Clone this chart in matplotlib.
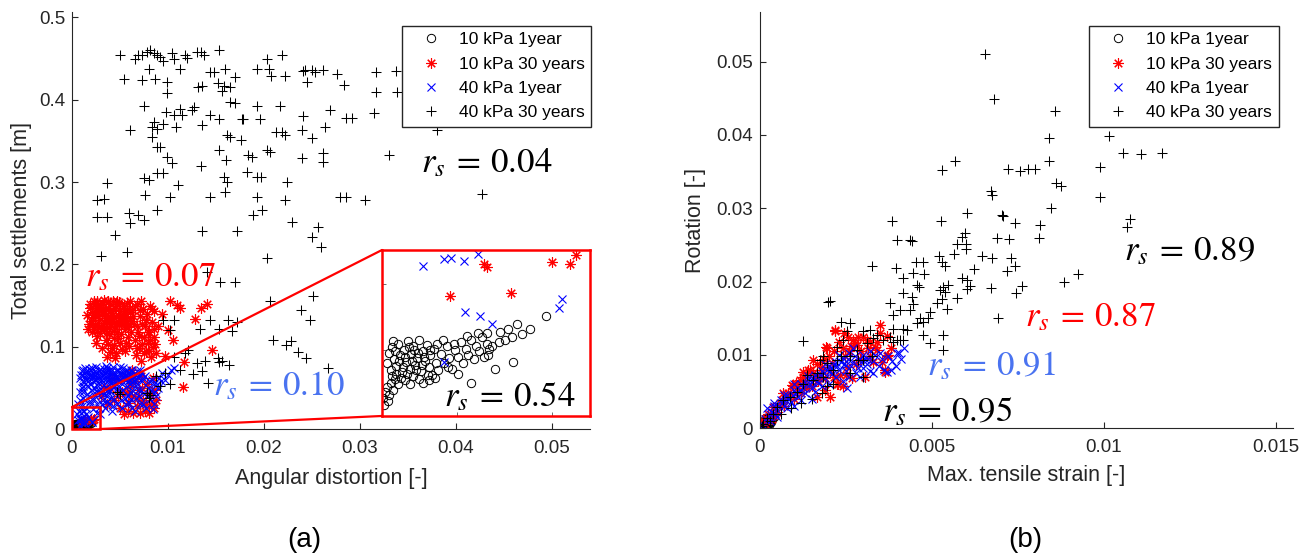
import numpy as np
import matplotlib.pyplot as plt
from matplotlib.patches import Rectangle, ConnectionPatch

plt.rcParams['font.family'] = ['Liberation Sans', 'DejaVu Sans']
plt.rcParams['mathtext.fontset'] = 'stix'

# ---- (a) angular distortion [-] vs total settlements [m] ----
a_10kpa_1y = [
    (0.00026, 0.0040), (0.00028, 0.0048), (0.00030, 0.0035), (0.00032, 0.0052), (0.00034, 0.0043),
    (0.00036, 0.0038), (0.00038, 0.0055), (0.00040, 0.0046), (0.00042, 0.0033), (0.00044, 0.0050),
    (0.00046, 0.0041), (0.00048, 0.0057), (0.00050, 0.0036), (0.00052, 0.0047), (0.00054, 0.0053),
    (0.00056, 0.0039), (0.00058, 0.0044), (0.00060, 0.0058), (0.00062, 0.0034), (0.00064, 0.0049),
    (0.00066, 0.0042), (0.00068, 0.0054), (0.00070, 0.0037), (0.00072, 0.0046), (0.00074, 0.0031),
    (0.00076, 0.0051), (0.00078, 0.0040), (0.00080, 0.0035), (0.00035, 0.0049), (0.00045, 0.0045),
    (0.00055, 0.0050), (0.00065, 0.0045), (0.00043, 0.0037), (0.00053, 0.0042), (0.00063, 0.0039),
    (0.00049, 0.0052), (0.00059, 0.0048), (0.00039, 0.0042), (0.00071, 0.0050), (0.00033, 0.0057),
    (0.00022, 0.0014), (0.00024, 0.0018), (0.00026, 0.0022), (0.00028, 0.0016), (0.00030, 0.0025),
    (0.00033, 0.0020), (0.00035, 0.0028), (0.00038, 0.0024), (0.00031, 0.0030), (0.00041, 0.0029),
    (0.00045, 0.0027), (0.00050, 0.0024), (0.00054, 0.0030), (0.00064, 0.0025), (0.00060, 0.0028),
    (0.00070, 0.0027), (0.00077, 0.0029), (0.00083, 0.0047), (0.00086, 0.0040), (0.00089, 0.0053),
    (0.00092, 0.0044), (0.00095, 0.0036), (0.00098, 0.0050), (0.00101, 0.0045), (0.00104, 0.0056),
    (0.00106, 0.0040), (0.00109, 0.0051), (0.00112, 0.0046), (0.00115, 0.0058), (0.00118, 0.0043),
    (0.00120, 0.0053), (0.00123, 0.0049), (0.00126, 0.0060), (0.00128, 0.0045), (0.00131, 0.0055),
    (0.00134, 0.0051), (0.00101, 0.0032), (0.00115, 0.0025), (0.00090, 0.0037), (0.00137, 0.0053),
    (0.00140, 0.0036), (0.00133, 0.0046), (0.00131, 0.0063), (0.00122, 0.0063), (0.00145, 0.0064),
    (0.00150, 0.0058), (0.00158, 0.0060), (0.00159, 0.0041), (0.00163, 0.0070), (0.00168, 0.0062),
    (0.00177, 0.0066), (0.00194, 0.0076), (0.00144, 0.0056), (0.00154, 0.0066),
    (0.00023, 0.0008), (0.00027, 0.0011), (0.00036, 0.0032), (0.00047, 0.0032), (0.00057, 0.0035),
    (0.00069, 0.0031), (0.00079, 0.0055), (0.00085, 0.0058), (0.00097, 0.0055), (0.00110, 0.0061),
]

a_10kpa_30y = [
    (0.0016, 0.138), (0.0018, 0.128), (0.0019, 0.147), (0.0021, 0.118), (0.0022, 0.136), (0.0023, 0.155),
    (0.0024, 0.126), (0.0026, 0.143), (0.0026, 0.113), (0.0028, 0.132), (0.0029, 0.151), (0.0030, 0.122),
    (0.0031, 0.140), (0.0033, 0.129), (0.0033, 0.157), (0.0035, 0.146), (0.0036, 0.117), (0.0037, 0.135),
    (0.0039, 0.124), (0.0040, 0.152), (0.0041, 0.141), (0.0042, 0.130), (0.0044, 0.119), (0.0045, 0.147),
    (0.0046, 0.137), (0.0047, 0.156), (0.0049, 0.126), (0.0050, 0.143), (0.0051, 0.115), (0.0052, 0.133),
    (0.0054, 0.150), (0.0055, 0.122), (0.0056, 0.140), (0.0057, 0.129), (0.0059, 0.146), (0.0060, 0.135),
    (0.0061, 0.155), (0.0062, 0.118), (0.0024, 0.139), (0.0034, 0.137), (0.0044, 0.135), (0.0053, 0.140),
    (0.0038, 0.147), (0.0048, 0.131), (0.0027, 0.124), (0.0020, 0.131), (0.0043, 0.155), (0.0058, 0.112),
    (0.0025, 0.105), (0.0031, 0.098), (0.0035, 0.108), (0.0040, 0.093), (0.0044, 0.102), (0.0048, 0.110),
    (0.0052, 0.097), (0.0037, 0.088), (0.0056, 0.105),
    (0.0017, 0.121), (0.0019, 0.152), (0.0021, 0.142), (0.0023, 0.122), (0.0025, 0.149), (0.0027, 0.137),
    (0.0029, 0.117), (0.0030, 0.145), (0.0032, 0.152), (0.0032, 0.125), (0.0034, 0.143), (0.0036, 0.131),
    (0.0038, 0.155), (0.0039, 0.115), (0.0041, 0.127), (0.0043, 0.145), (0.0045, 0.125), (0.0046, 0.150),
    (0.0048, 0.139), (0.0049, 0.154), (0.0051, 0.129), (0.0053, 0.147), (0.0055, 0.136), (0.0057, 0.153),
    (0.0058, 0.124), (0.0060, 0.142), (0.0062, 0.131), (0.0035, 0.121), (0.0047, 0.118), (0.0028, 0.144),
    (0.0040, 0.136), (0.0054, 0.128), (0.0022, 0.128), (0.0044, 0.110), (0.0050, 0.104), (0.0042, 0.098),
    (0.0046, 0.092), (0.0055, 0.095), (0.0059, 0.101), (0.0038, 0.103),
    (0.0063, 0.145), (0.0065, 0.128), (0.0066, 0.108), (0.0067, 0.090), (0.0068, 0.152), (0.0069, 0.118),
    (0.0070, 0.098), (0.0071, 0.137), (0.0072, 0.083), (0.0074, 0.146), (0.0075, 0.112), (0.0076, 0.125),
    (0.0077, 0.095), (0.0078, 0.140), (0.0079, 0.104), (0.0080, 0.118), (0.0081, 0.150), (0.0082, 0.087),
    (0.0083, 0.130), (0.0084, 0.100), (0.0085, 0.143), (0.0086, 0.112), (0.0088, 0.092), (0.0073, 0.103),
    (0.0064, 0.137), (0.0066, 0.150), (0.0068, 0.125), (0.0070, 0.113), (0.0071, 0.145), (0.0073, 0.128),
    (0.0075, 0.092), (0.0077, 0.133), (0.0079, 0.118), (0.0081, 0.108), (0.0083, 0.146), (0.0085, 0.122),
    (0.0087, 0.103), (0.0068, 0.098), (0.0072, 0.155), (0.0080, 0.095),
    (0.0026, 0.155), (0.0102, 0.155), (0.0113, 0.147), (0.0109, 0.151), (0.0128, 0.134), (0.0135, 0.147),
    (0.0141, 0.152), (0.0146, 0.096), (0.0116, 0.051), (0.0100, 0.120), (0.0094, 0.140), (0.0105, 0.108),
    (0.0090, 0.125), (0.0097, 0.089), (0.0117, 0.082), (0.0045, 0.086), (0.0063, 0.072),
    (0.0030, 0.040), (0.0036, 0.030), (0.0040, 0.050), (0.0044, 0.035), (0.0047, 0.060), (0.0050, 0.025),
    (0.0052, 0.045), (0.0055, 0.065), (0.0058, 0.032), (0.0060, 0.052), (0.0063, 0.040), (0.0066, 0.058),
    (0.0068, 0.028), (0.0070, 0.047), (0.0072, 0.065), (0.0074, 0.035), (0.0076, 0.022), (0.0078, 0.055),
    (0.0080, 0.042), (0.0082, 0.030), (0.0084, 0.062), (0.0086, 0.048), (0.0064, 0.020), (0.0080, 0.020),
    (0.0054, 0.018), (0.0033, 0.050), (0.0042, 0.062), (0.0048, 0.040), (0.0057, 0.045), (0.0062, 0.060),
    (0.0069, 0.038), (0.0073, 0.050), (0.0077, 0.030), (0.0083, 0.045), (0.0088, 0.035), (0.0058, 0.022),
    (0.0071, 0.020), (0.0085, 0.025),
    (0.00128, 0.0115), (0.00131, 0.0113), (0.00093, 0.0091), (0.00157, 0.0093), (0.00200, 0.0117),
    (0.00219, 0.0115), (0.00225, 0.0122),
]

a_40kpa_1y = [
    (0.0008, 0.062), (0.0010, 0.070), (0.0012, 0.066), (0.0014, 0.074), (0.0015, 0.060), (0.0017, 0.068),
    (0.0019, 0.064), (0.0020, 0.072), (0.0022, 0.058), (0.0023, 0.067), (0.0025, 0.075), (0.0026, 0.062),
    (0.0028, 0.070), (0.0030, 0.065), (0.0031, 0.059), (0.0033, 0.073), (0.0034, 0.068), (0.0036, 0.062),
    (0.0038, 0.071), (0.0039, 0.066), (0.0041, 0.060), (0.0043, 0.075), (0.0044, 0.069), (0.0046, 0.063),
    (0.0048, 0.072), (0.0049, 0.058), (0.0051, 0.067), (0.0053, 0.074), (0.0054, 0.061), (0.0056, 0.070),
    (0.0058, 0.065), (0.0060, 0.059), (0.0062, 0.072), (0.0064, 0.066), (0.0066, 0.061), (0.0068, 0.070),
    (0.0070, 0.064), (0.0072, 0.068), (0.0013, 0.057), (0.0027, 0.056), (0.0040, 0.056), (0.0052, 0.055),
    (0.0018, 0.073), (0.0035, 0.076), (0.0047, 0.065), (0.0024, 0.064), (0.0057, 0.062), (0.0011, 0.058),
    (0.0009, 0.066), (0.0011, 0.072), (0.0013, 0.063), (0.0015, 0.070), (0.0016, 0.064), (0.0018, 0.060),
    (0.0020, 0.067), (0.0021, 0.074), (0.0022, 0.063), (0.0024, 0.070), (0.0025, 0.059), (0.0027, 0.066),
    (0.0029, 0.073), (0.0029, 0.061), (0.0031, 0.068), (0.0032, 0.064), (0.0034, 0.059), (0.0035, 0.071),
    (0.0037, 0.066), (0.0037, 0.074), (0.0039, 0.061), (0.0040, 0.069), (0.0042, 0.064), (0.0042, 0.072),
    (0.0044, 0.058), (0.0045, 0.066), (0.0047, 0.071), (0.0048, 0.061), (0.0050, 0.068), (0.0050, 0.075),
    (0.0052, 0.063), (0.0053, 0.069), (0.0055, 0.066), (0.0057, 0.072), (0.0058, 0.058), (0.0059, 0.068),
    (0.0061, 0.064), (0.0063, 0.069), (0.0065, 0.058), (0.0067, 0.066), (0.0069, 0.062), (0.0071, 0.072),
    (0.0074, 0.062), (0.0016, 0.052), (0.0020, 0.055), (0.0023, 0.050), (0.0028, 0.047), (0.0033, 0.053),
    (0.0038, 0.049), (0.0043, 0.054), (0.0046, 0.048),
    (0.0006, 0.030), (0.0008, 0.045), (0.0009, 0.020), (0.0011, 0.038), (0.0012, 0.052), (0.0014, 0.027),
    (0.0016, 0.043), (0.0017, 0.015), (0.0019, 0.034), (0.0021, 0.048), (0.0022, 0.024), (0.0024, 0.040),
    (0.0026, 0.030), (0.0027, 0.052), (0.0029, 0.018), (0.0030, 0.044), (0.0032, 0.035), (0.0034, 0.025),
    (0.0035, 0.050), (0.0037, 0.040), (0.0039, 0.030), (0.0040, 0.046), (0.0042, 0.022), (0.0044, 0.037),
    (0.0045, 0.052), (0.0007, 0.022), (0.0010, 0.050), (0.0012, 0.045), (0.0014, 0.035), (0.0018, 0.040),
    (0.0020, 0.030), (0.0023, 0.036), (0.0025, 0.046), (0.0028, 0.025), (0.0031, 0.030), (0.0033, 0.042),
    (0.0036, 0.034), (0.0038, 0.045), (0.0041, 0.038), (0.0043, 0.028), (0.0008, 0.035), (0.0013, 0.022),
    (0.0005, 0.018), (0.0015, 0.018), (0.0026, 0.020), (0.0010, 0.028),
    (0.0047, 0.030), (0.0050, 0.045), (0.0052, 0.025), (0.0055, 0.038), (0.0057, 0.052), (0.0059, 0.032),
    (0.0061, 0.045), (0.0063, 0.026), (0.0065, 0.055), (0.0067, 0.038), (0.0069, 0.048), (0.0071, 0.030),
    (0.0073, 0.058), (0.0075, 0.042), (0.0077, 0.025), (0.0079, 0.050), (0.0081, 0.036), (0.0083, 0.060),
    (0.0085, 0.030), (0.0087, 0.045), (0.0089, 0.055), (0.0091, 0.062), (0.0094, 0.068), (0.0097, 0.060),
    (0.0100, 0.066), (0.0103, 0.072), (0.0106, 0.074), (0.0084, 0.024), (0.0076, 0.064), (0.0066, 0.022),
    (0.0048, 0.052), (0.0051, 0.035), (0.0053, 0.048), (0.0056, 0.030), (0.0058, 0.040), (0.0060, 0.055),
    (0.0062, 0.036), (0.0064, 0.046), (0.0068, 0.055), (0.0070, 0.040), (0.0072, 0.047), (0.0074, 0.030),
    (0.0078, 0.040), (0.0080, 0.058), (0.0082, 0.048), (0.0086, 0.055), (0.0088, 0.040), (0.0090, 0.050),
    (0.0093, 0.058),
    (0.00064, 0.0114), (0.00086, 0.0119), (0.00094, 0.0120), (0.00107, 0.0118), (0.00122, 0.0123),
    (0.00108, 0.0079), (0.00124, 0.0076), (0.00137, 0.0070), (0.00210, 0.0089), (0.00207, 0.0082),
    (0.00086, 0.0041),
]

a_40kpa_30y = [
    (0.0050, 0.454), (0.0066, 0.450), (0.0069, 0.454), (0.0073, 0.455), (0.0078, 0.458), (0.0081, 0.461),
    (0.0085, 0.457), (0.0089, 0.455), (0.0092, 0.452), (0.0095, 0.447), (0.0104, 0.457), (0.0106, 0.449),
    (0.0118, 0.455), (0.0120, 0.451), (0.0130, 0.458), (0.0134, 0.458), (0.0138, 0.455), (0.0153, 0.460),
    (0.0054, 0.425), (0.0080, 0.438), (0.0073, 0.424), (0.0087, 0.425), (0.0099, 0.421), (0.0099, 0.408),
    (0.0075, 0.392), (0.0113, 0.437), (0.0131, 0.416), (0.0136, 0.417), (0.0144, 0.434), (0.0148, 0.434),
    (0.0152, 0.420), (0.0160, 0.437), (0.0158, 0.417), (0.0156, 0.411), (0.0165, 0.416), (0.0170, 0.428),
    (0.0165, 0.397), (0.0170, 0.396), (0.0177, 0.377), (0.0162, 0.357), (0.0165, 0.355), (0.0176, 0.351),
    (0.0153, 0.339), (0.0161, 0.327), (0.0183, 0.333), (0.0188, 0.331), (0.0182, 0.312), (0.0193, 0.306),
    (0.0197, 0.306), (0.0144, 0.381), (0.0153, 0.377), (0.0134, 0.319), (0.0136, 0.369), (0.0159, 0.306),
    (0.0162, 0.300), (0.0160, 0.288), (0.0144, 0.282), (0.0136, 0.240), (0.0172, 0.241), (0.0193, 0.282),
    (0.0189, 0.260), (0.0198, 0.266), (0.0203, 0.449), (0.0205, 0.438), (0.0208, 0.429), (0.0219, 0.454),
    (0.0222, 0.429), (0.0193, 0.438), (0.0193, 0.392), (0.0196, 0.377), (0.0217, 0.392), (0.0203, 0.339),
    (0.0206, 0.337), (0.0213, 0.361), (0.0219, 0.361), (0.0222, 0.357), (0.0224, 0.300), (0.0222, 0.278),
    (0.0229, 0.251), (0.0240, 0.363), (0.0240, 0.329), (0.0241, 0.380), (0.0250, 0.354), (0.0243, 0.436),
    (0.0245, 0.422), (0.0253, 0.434), (0.0262, 0.436), (0.0264, 0.367), (0.0262, 0.325), (0.0260, 0.221),
    (0.0250, 0.233), (0.0257, 0.245), (0.0203, 0.208), (0.0141, 0.191), (0.0085, 0.373), (0.0083, 0.367),
    (0.0089, 0.365), (0.0095, 0.371), (0.0098, 0.385), (0.0106, 0.381), (0.0108, 0.367), (0.0113, 0.389),
    (0.0115, 0.381), (0.0125, 0.387), (0.0127, 0.391), (0.0083, 0.355), (0.0089, 0.343), (0.0092, 0.343),
    (0.0099, 0.331), (0.0104, 0.323), (0.0095, 0.311), (0.0089, 0.311), (0.0075, 0.305), (0.0080, 0.303),
    (0.0102, 0.282), (0.0076, 0.284), (0.0089, 0.266), (0.0069, 0.260), (0.0075, 0.254), (0.0059, 0.262),
    (0.0060, 0.250), (0.0057, 0.215), (0.0060, 0.363), (0.0111, 0.297), (0.0026, 0.278), (0.0033, 0.280),
    (0.0026, 0.257), (0.0036, 0.257), (0.0037, 0.299), (0.0045, 0.236), (0.0030, 0.210),
    (0.0276, 0.431), (0.0284, 0.418), (0.0317, 0.434), (0.0338, 0.435), (0.0317, 0.410), (0.0339, 0.409),
    (0.0269, 0.388), (0.0286, 0.378), (0.0292, 0.378), (0.0315, 0.384), (0.0262, 0.335), (0.0331, 0.333),
    (0.0381, 0.363), (0.0279, 0.282), (0.0286, 0.282), (0.0306, 0.278), (0.0427, 0.286), (0.0241, 0.435),
    (0.0250, 0.436), (0.0178, 0.377),
    (0.0251, 0.161), (0.0206, 0.156), (0.0239, 0.145), (0.0248, 0.132), (0.0210, 0.108), (0.0223, 0.102),
    (0.0228, 0.107), (0.0236, 0.094), (0.0244, 0.086), (0.0267, 0.074),
    (0.0154, 0.179), (0.0170, 0.179), (0.0095, 0.132), (0.0106, 0.132), (0.0133, 0.122), (0.0144, 0.133),
    (0.0153, 0.121), (0.0163, 0.133), (0.0172, 0.130), (0.0106, 0.088), (0.0113, 0.072), (0.0130, 0.080),
    (0.0139, 0.083), (0.0152, 0.086), (0.0153, 0.081), (0.0164, 0.078), (0.0126, 0.067), (0.0136, 0.070),
    (0.0142, 0.056), (0.0102, 0.055), (0.0092, 0.052), (0.0050, 0.043), (0.0047, 0.045), (0.0081, 0.041),
    (0.0078, 0.044), (0.0088, 0.064), (0.0097, 0.068), (0.0102, 0.120), (0.0167, 0.119), (0.0121, 0.096),
    (0.0118, 0.092), (0.0156, 0.083), (0.0080, 0.038),
]

# ---- (b) max. tensile strain [-] vs rotation [-] ----
b_10kpa_1y = [
    (0.00002, 0.0001), (0.00004, 0.0003), (0.00006, 0.0002), (0.00008, 0.0005), (0.00010, 0.0004),
    (0.00012, 0.0006), (0.00014, 0.0003), (0.00016, 0.0007), (0.00018, 0.0005), (0.00020, 0.0008),
    (0.00022, 0.0006), (0.00025, 0.0009), (0.00028, 0.0007), (0.00030, 0.0010), (0.00005, 0.0006),
    (0.00009, 0.0008), (0.00013, 0.0010), (0.00017, 0.0011), (0.00003, 0.0004), (0.00011, 0.0002),
    (0.00021, 0.0012), (0.00026, 0.0005), (0.00033, 0.0008), (0.00015, 0.0013), (0.00007, 0.0009),
    (0.00036, 0.0012), (0.00040, 0.0015), (0.00030, 0.0016), (0.00024, 0.0014),
]

b_10kpa_30y = [
    (0.00349, 0.0141), (0.00368, 0.0126), (0.00218, 0.0134), (0.00191, 0.0111), (0.00140, 0.0080),
    (0.00126, 0.0077), (0.00092, 0.0059), (0.00305, 0.0070), (0.00363, 0.0077), (0.00373, 0.0100),
    (0.00334, 0.0111), (0.00276, 0.0116), (0.00247, 0.0098), (0.00208, 0.0089), (0.00179, 0.0080),
    (0.00160, 0.0070), (0.00082, 0.0048), (0.00063, 0.0039), (0.00044, 0.0029), (0.00024, 0.0020),
    (0.00005, 0.0011), (0.00189, 0.0052), (0.00228, 0.0061), (0.00267, 0.0068), (0.00218, 0.0132),
    (0.00368, 0.0098), (0.00363, 0.0080), (0.00194, 0.0109), (0.00097, 0.0057), (0.00078, 0.0043),
    (0.00058, 0.0034), (0.00029, 0.0016), (0.00005, 0.0009), (0.00271, 0.0120), (0.00281, 0.0114),
    (0.00310, 0.0120), (0.00349, 0.0130), (0.00339, 0.0107), (0.00320, 0.0098), (0.00252, 0.0084),
    (0.00233, 0.0073), (0.00223, 0.0061), (0.00203, 0.0080), (0.00179, 0.0084), (0.00155, 0.0093),
    (0.00145, 0.0080), (0.00116, 0.0066), (0.00068, 0.0048), (0.00242, 0.0057), (0.00203, 0.0043),
    (0.00165, 0.0043), (0.00039, 0.0029), (0.00110, 0.0055), (0.00130, 0.0062), (0.00150, 0.0058),
    (0.00170, 0.0065), (0.00260, 0.0105), (0.00290, 0.0095), (0.00240, 0.0110), (0.00185, 0.0095),
    (0.00120, 0.0048), (0.00100, 0.0040), (0.00050, 0.0022), (0.00035, 0.0013), (0.00015, 0.0006),
    (0.00330, 0.0090), (0.00300, 0.0125), (0.00255, 0.0125), (0.00320, 0.0118),
    (0.00020, 0.0012), (0.00045, 0.0020), (0.00070, 0.0030), (0.00090, 0.0045), (0.00105, 0.0062),
    (0.00125, 0.0070), (0.00135, 0.0055), (0.00155, 0.0075), (0.00165, 0.0088), (0.00175, 0.0070),
    (0.00200, 0.0098), (0.00215, 0.0105), (0.00230, 0.0118), (0.00245, 0.0130), (0.00265, 0.0112),
    (0.00285, 0.0125), (0.00295, 0.0105), (0.00315, 0.0110), (0.00340, 0.0118), (0.00355, 0.0090),
    (0.00380, 0.0110), (0.00280, 0.0088), (0.00215, 0.0070), (0.00190, 0.0068), (0.00250, 0.0072),
]

b_40kpa_1y = [
    (0.00019, 0.0027), (0.00030, 0.0020), (0.00040, 0.0030), (0.00050, 0.0025), (0.00060, 0.0038),
    (0.00070, 0.0030), (0.00080, 0.0045), (0.00090, 0.0036), (0.00100, 0.0052), (0.00110, 0.0042),
    (0.00120, 0.0060), (0.00130, 0.0048), (0.00140, 0.0067), (0.00150, 0.0055), (0.00160, 0.0072),
    (0.00170, 0.0062), (0.00180, 0.0078), (0.00190, 0.0068), (0.00200, 0.0085), (0.00210, 0.0074),
    (0.00220, 0.0090), (0.00230, 0.0080), (0.00240, 0.0096), (0.00250, 0.0086), (0.00260, 0.0102),
    (0.00270, 0.0090), (0.00280, 0.0076), (0.00290, 0.0095), (0.00300, 0.0082), (0.00310, 0.0088),
    (0.00320, 0.0078), (0.00330, 0.0092), (0.00345, 0.0085), (0.00360, 0.0080), (0.00372, 0.0098),
    (0.00385, 0.0092), (0.00405, 0.0103), (0.00420, 0.0110), (0.00380, 0.0079), (0.00260, 0.0070),
    (0.00240, 0.0065), (0.00200, 0.0060), (0.00160, 0.0050), (0.00120, 0.0038), (0.00080, 0.0028),
    (0.00050, 0.0015), (0.00030, 0.0010), (0.00010, 0.0005), (0.00150, 0.0040), (0.00100, 0.0030),
    (0.00180, 0.0058), (0.00220, 0.0070), (0.00290, 0.0070), (0.00330, 0.0075), (0.00270, 0.0110),
    (0.00230, 0.0100), (0.00190, 0.0087), (0.00140, 0.0071), (0.00100, 0.0060), (0.00070, 0.0045),
    (0.00040, 0.0035), (0.00150, 0.0063), (0.00210, 0.0082), (0.00250, 0.0078), (0.00300, 0.0100),
    (0.00320, 0.0105), (0.00350, 0.0102), (0.00397, 0.0102), (0.00368, 0.0077), (0.00305, 0.0095),
    (0.00252, 0.0055),
    (0.00015, 0.0012), (0.00025, 0.0015), (0.00035, 0.0022), (0.00045, 0.0020), (0.00055, 0.0030),
    (0.00065, 0.0035), (0.00075, 0.0038), (0.00085, 0.0040), (0.00095, 0.0046), (0.00105, 0.0048),
    (0.00115, 0.0052), (0.00125, 0.0055), (0.00135, 0.0060), (0.00145, 0.0060), (0.00155, 0.0068),
    (0.00165, 0.0065), (0.00175, 0.0072), (0.00185, 0.0075), (0.00195, 0.0080), (0.00205, 0.0078),
    (0.00215, 0.0086), (0.00225, 0.0085), (0.00235, 0.0090), (0.00245, 0.0088), (0.00255, 0.0095),
    (0.00265, 0.0085), (0.00275, 0.0098), (0.00285, 0.0082), (0.00295, 0.0090), (0.00315, 0.0095),
    (0.00335, 0.0100), (0.00355, 0.0095), (0.00395, 0.0085), (0.00410, 0.0095),
]

b_40kpa_30y = [
    (0.00654, 0.0511), (0.00680, 0.0449), (0.00858, 0.0433), (0.00840, 0.0396), (0.01015, 0.0399),
    (0.00567, 0.0365), (0.00529, 0.0352), (0.00722, 0.0353), (0.00756, 0.0351), (0.00780, 0.0353),
    (0.00799, 0.0353), (0.00841, 0.0364), (0.00990, 0.0356), (0.00862, 0.0335), (0.00875, 0.0331),
    (0.00990, 0.0315), (0.00672, 0.0324), (0.00676, 0.0318), (0.00846, 0.0301), (0.00603, 0.0293),
    (0.00703, 0.0291), (0.00707, 0.0289), (0.00741, 0.0280), (0.00814, 0.0277), (0.00385, 0.0283),
    (0.00526, 0.0282), (0.00397, 0.0257), (0.00436, 0.0257), (0.00441, 0.0255), (0.00596, 0.0266),
    (0.00586, 0.0261), (0.00572, 0.0251), (0.00599, 0.0251), (0.00599, 0.0244), (0.00688, 0.0259),
    (0.00725, 0.0258), (0.00811, 0.0259), (0.00565, 0.0238), (0.00647, 0.0235), (0.00676, 0.0232),
    (0.00730, 0.0232), (0.00741, 0.0221), (0.00717, 0.0214), (0.00623, 0.0217), (0.00520, 0.0235),
    (0.00528, 0.0227), (0.00538, 0.0221), (0.00453, 0.0227), (0.00475, 0.0227), (0.00326, 0.0221),
    (0.00395, 0.0218), (0.00417, 0.0205), (0.00446, 0.0212), (0.00478, 0.0210), (0.00925, 0.0210),
    (0.00884, 0.0199), (0.00601, 0.0202), (0.00610, 0.0194), (0.00601, 0.0190), (0.00547, 0.0196),
    (0.00531, 0.0192), (0.00523, 0.0189), (0.00463, 0.0192), (0.00417, 0.0184), (0.00441, 0.0179),
    (0.00672, 0.0191), (0.00761, 0.0194), (0.00744, 0.0185), (0.01056, 0.0376), (0.01109, 0.0374),
    (0.01170, 0.0376), (0.01076, 0.0286), (0.01066, 0.0275), (0.00693, 0.0150), (0.00538, 0.0186),
    (0.00528, 0.0176), (0.00514, 0.0171), (0.00543, 0.0162), (0.00572, 0.0177), (0.00586, 0.0205),
    (0.00494, 0.0159), (0.00489, 0.0150), (0.00456, 0.0196), (0.00378, 0.0171), (0.00407, 0.0161),
    (0.00388, 0.0155), (0.00436, 0.0161), (0.00456, 0.0143), (0.00465, 0.0150), (0.00475, 0.0145),
    (0.00427, 0.0134), (0.00417, 0.0136), (0.00388, 0.0136), (0.00475, 0.0127), (0.00533, 0.0127),
    (0.00533, 0.0107), (0.00494, 0.0116), (0.00407, 0.0121), (0.00388, 0.0118), (0.00446, 0.0170),
    (0.00199, 0.0172), (0.00126, 0.0119), (0.00203, 0.0173),
    (0.00237, 0.0145), (0.00262, 0.0144), (0.00300, 0.0132), (0.00320, 0.0134), (0.00339, 0.0127),
    (0.00310, 0.0116), (0.00329, 0.0123), (0.00359, 0.0120), (0.00378, 0.0125), (0.00397, 0.0120),
    (0.00417, 0.0120), (0.00252, 0.0132), (0.00242, 0.0120), (0.00223, 0.0111), (0.00184, 0.0098),
    (0.00174, 0.0093), (0.00194, 0.0089), (0.00213, 0.0080), (0.00165, 0.0075), (0.00136, 0.0073),
    (0.00155, 0.0066), (0.00126, 0.0061), (0.00107, 0.0050), (0.00087, 0.0043), (0.00068, 0.0039),
    (0.00049, 0.0029), (0.00039, 0.0020), (0.00019, 0.0014), (0.00281, 0.0107), (0.00286, 0.0093),
    (0.00262, 0.0098), (0.00237, 0.0098), (0.00223, 0.0093), (0.00213, 0.0061), (0.00184, 0.0070),
    (0.00194, 0.0057), (0.00300, 0.0093), (0.00325, 0.0098), (0.00262, 0.0075), (0.00300, 0.0070),
    (0.00005, 0.0003), (0.00010, 0.0006), (0.00030, 0.0010), (0.00060, 0.0020), (0.00090, 0.0028),
    (0.00120, 0.0035), (0.00150, 0.0040), (0.00180, 0.0048),
]

labels = ['10 kPa 1year', '10 kPa 30 years', '40 kPa 1year', '40 kPa 30 years']

a_xticks = [0, 0.01, 0.02, 0.03, 0.04, 0.05]
a_xticklabels = ['0', '0.01', '0.02', '0.03', '0.04', '0.05']
a_yticks = [0, 0.1, 0.2, 0.3, 0.4, 0.5]
a_yticklabels = ['0', '0.1', '0.2', '0.3', '0.4', '0.5']
b_xticks = [0, 0.005, 0.01, 0.015]
b_xticklabels = ['0', '0.005', '0.01', '0.015']
b_yticks = [0, 0.01, 0.02, 0.03, 0.04, 0.05]
b_yticklabels = ['0', '0.01', '0.02', '0.03', '0.04', '0.05']

# spearman coefficients written on the plots
rs_a = {'10 kPa 1year': '0.54', '10 kPa 30 years': '0.07', '40 kPa 1year': '0.10', '40 kPa 30 years': '0.04'}
rs_b = {'10 kPa 1year': '0.95', '10 kPa 30 years': '0.87', '40 kPa 1year': '0.91', '40 kPa 30 years': '0.89'}

dark = '#262626'
rs_blue = '#4A73F0'

styles = [
    dict(marker='o', ms=6, mfc='none', mec='k', mew=0.7, ls='none'),
    dict(marker=(8, 2, 0), ms=7.5, mec='red', color='red', mew=0.8, ls='none'),
    dict(marker='x', ms=5.5, mec='blue', color='blue', mew=0.8, ls='none'),
    dict(marker='+', ms=7.5, mec='k', color='k', mew=0.75, ls='none'),
]

fig = plt.figure(figsize=(13.11, 5.55), dpi=100)


def draw(ax, series, lab=True):
    for data, st, name in zip(series, styles, labels):
        arr = np.array(data)
        ax.plot(arr[:, 0], arr[:, 1], label=name if lab else None, **st)


def style_axes(ax):
    for s in ['top', 'right']:
        ax.spines[s].set_visible(False)
    for s in ['left', 'bottom']:
        ax.spines[s].set_color(dark)
        ax.spines[s].set_linewidth(0.8)
    ax.tick_params(direction='in', length=4, width=0.8, color=dark, labelcolor=dark, labelsize=13.5)
    ax.tick_params(axis='x', pad=8)
    ax.tick_params(axis='y', pad=5)


def make_legend(ax, x0, y0):
    leg = ax.legend(loc='upper left', bbox_to_anchor=(x0, y0), borderaxespad=0,
                    fontsize=12.5, numpoints=1, fancybox=False, framealpha=1,
                    edgecolor=dark, borderpad=0.38, handlelength=2.58, handletextpad=0.32,
                    labelspacing=0.52)
    leg.get_frame().set_linewidth(1.0)
    return leg


def rs_text(ax, x, y, val, col):
    ax.text(x, y, r'$r_s\:=\:%s$' % val, transform=ax.transAxes,
            fontsize=25, color=col, ha='left', va='center')


# ---------------- panel (a) ----------------
ax = fig.add_axes([0.0549, 0.2270, 0.3951, 0.7519])
draw(ax, [a_10kpa_1y, a_10kpa_30y, a_40kpa_1y, a_40kpa_30y])
ax.set_xlim(0, 0.054)
ax.set_ylim(0, 0.507)
ax.set_xticks(a_xticks)
ax.set_xticklabels(a_xticklabels)
ax.set_yticks(a_yticks)
ax.set_yticklabels(a_yticklabels)
style_axes(ax)
ax.set_xlabel('Angular distortion [-]', fontsize=15.5, color=dark)
ax.set_ylabel('Total settlements [m]', fontsize=15.5, color=dark)
ax.xaxis.set_label_coords(0.5, -0.093)
ax.yaxis.set_label_coords(-0.078, 0.5)
make_legend(ax, 0.637, 0.9665)

rs_text(ax, 0.674, 0.637, rs_a['40 kPa 30 years'], 'black')
rs_text(ax, 0.025, 0.364, rs_a['10 kPa 30 years'], 'red')
rs_text(ax, 0.272, 0.103, rs_a['40 kPa 1year'], rs_blue)

# zoom box on the origin
box_w, box_h = 0.0029, 0.0267
ax.add_patch(Rectangle((0, 0), box_w, box_h, fill=False, ec='red', lw=1.8, zorder=5, clip_on=False))

# inset
axi = fig.add_axes([0.2914, 0.2505, 0.1587, 0.2991])
draw(axi, [a_10kpa_1y, a_10kpa_30y, a_40kpa_1y, a_40kpa_30y], lab=False)
axi.set_xlim(0.00021, 0.0024)
axi.set_ylim(0, 0.0126)
axi.set_xticks([0.001, 0.002])
axi.set_yticks([0.005, 0.01])
axi.tick_params(direction='in', length=3, width=0.6, color='#555555', labelbottom=False, labelleft=False)
for s in axi.spines.values():
    s.set_color('red')
    s.set_linewidth(1.8)
rs_text(axi, 0.298, 0.114, rs_a['10 kPa 1year'], 'black')

for xy_a, xy_b in [((0, box_h), (0, 1)), ((box_w, 0), (0, 0))]:
    con = ConnectionPatch(xyA=xy_a, coordsA='data', axesA=ax,
                          xyB=xy_b, coordsB='axes fraction', axesB=axi,
                          color='red', lw=1.6)
    fig.add_artist(con)

# ---------------- panel (b) ----------------
bx = fig.add_axes([0.5797, 0.2283, 0.4066, 0.7506])
draw(bx, [b_10kpa_1y, b_10kpa_30y, b_40kpa_1y, b_40kpa_30y])
bx.set_xlim(0, 0.0155)
bx.set_ylim(0, 0.0568)
bx.set_xticks(b_xticks)
bx.set_xticklabels(b_xticklabels)
bx.set_yticks(b_yticks)
bx.set_yticklabels(b_yticklabels)
style_axes(bx)
bx.set_xlabel('Max. tensile strain [-]', fontsize=15.5, color=dark)
bx.set_ylabel('Rotation [-]', fontsize=15.5, color=dark)
bx.xaxis.set_label_coords(0.5, -0.088)
bx.yaxis.set_label_coords(-0.101, 0.5)
make_legend(bx, 0.618, 0.9664)

rs_text(bx, 0.682, 0.4256, rs_b['40 kPa 30 years'], 'black')
rs_text(bx, 0.497, 0.267, rs_b['10 kPa 30 years'], 'red')
rs_text(bx, 0.313, 0.150, rs_b['40 kPa 1year'], rs_blue)
rs_text(bx, 0.228, 0.039, rs_b['10 kPa 1year'], 'black')

fig.text(0.232, 0.027, '(a)', fontsize=20, ha='center', va='center', color='black')
fig.text(0.782, 0.027, '(b)', fontsize=20, ha='center', va='center', color='black')

fig.savefig('out.png', dpi=100)
